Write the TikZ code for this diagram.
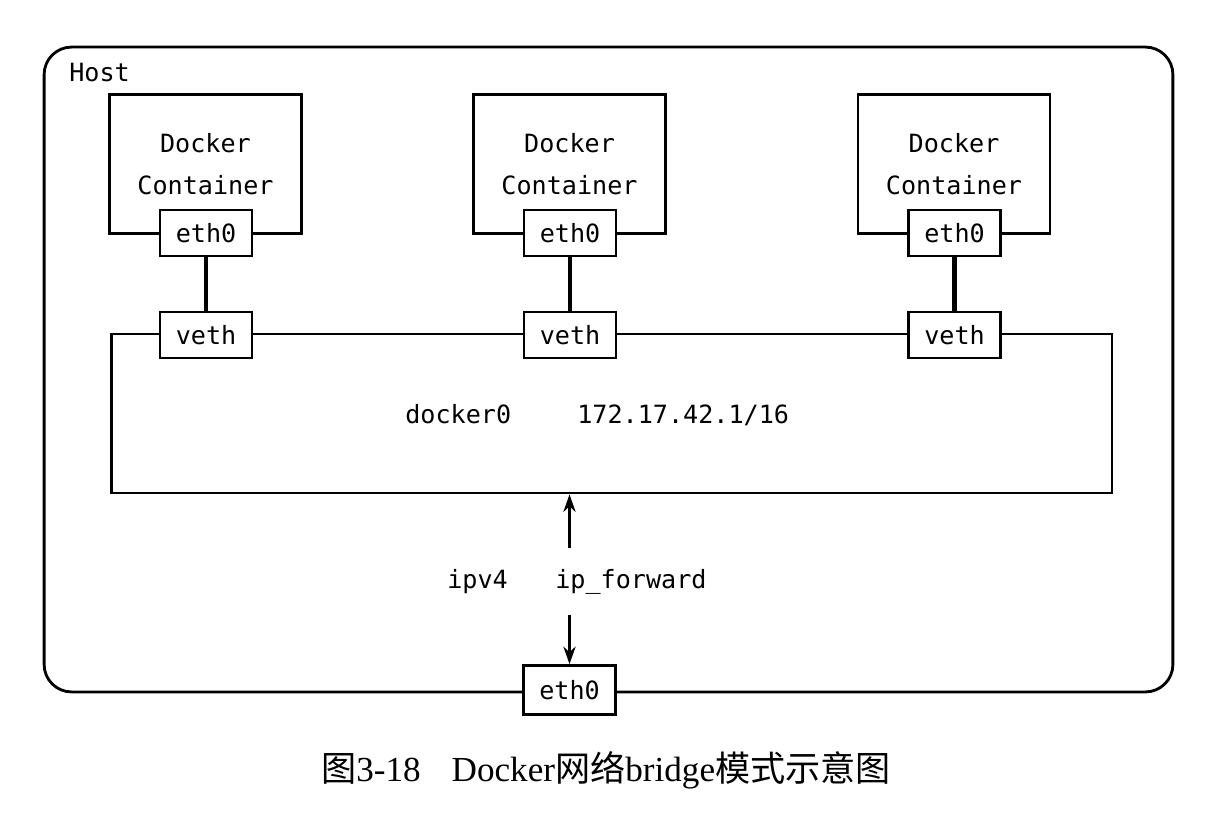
\documentclass[tikz,border=0pt]{standalone}
\usepackage{fontspec}
\setmainfont{Liberation Serif}
\setmonofont{DejaVu Sans Mono}
\newfontfamily\cjk{Noto Sans CJK SC}
\usetikzlibrary{arrows.meta,positioning}
\tikzset{
	box/.style={draw,line width=1.6pt,fill=white,inner sep=0pt,
		font=\ttfamily\fontsize{14.3}{23.8}\selectfont},
	port/.style={box,minimum width=1.84cm,minimum height=0.92cm},
	ctbox/.style={box,align=center,minimum width=3.84cm,minimum height=2.78cm},
	txt/.style={inner sep=0pt,font=\ttfamily\fontsize{14.3}{23.8}\selectfont},
	link/.style={line width=2.8pt},
	fwd/.style={line width=1.4pt,{Stealth[length=10pt,width=7pt]}-{Stealth[length=10pt,width=7pt]}}
}

\begin{document}
\begin{tikzpicture}[x=0.02cm,y=-0.02cm]
	\useasboundingbox (0,0) rectangle (1230,832);

	% host and bridge
	\node[box,rounded corners=0.55cm,minimum width=22.58cm,minimum height=12.9cm] (host) at (608.5,369.5) {};
	\node[txt,anchor=west] (hostname) at (69,73) {Host};
	\node[box,minimum width=20.02cm,minimum height=3.18cm] (docker0) at (611.5,413.5) {};
	\node[txt,anchor=base west] (brname) at (405,423) {docker0};
	\node[txt,anchor=base west] (brip) at (577,423) {172.17.42.1/16};

	% containers
	\foreach \x [count=\i] in {205.5,569.5,954}
	{
		\node[ctbox] (c\i) at (\x,164) {Docker\\Container};
		\node[port] (e\i) at (\x+0.5,233) {eth0};
		\node[port] (v\i) at (\x+0.5,335) {veth};
		\draw[link] (e\i) -- (v\i);
	}

	% host interface
	\node[port,minimum height=0.98cm] (eth) at (569.5,690) {eth0};
	\draw[fwd] (eth.north |- docker0.south) -- (eth.north);
	\node[txt,anchor=base west] (ipv) at (447,588) {ipv4};
	\node[txt,anchor=base west,fill=white,inner ysep=12pt] (ipf) at (555,588) {ip\_forward};

	\node[font=\fontsize{20}{24}\selectfont] (caption) at (606,770) {{\cjk 图}3-18\hspace{0.62cm}Docker{\cjk 网络}bridge{\cjk 模式示意图}};
\end{tikzpicture}
\end{document}
